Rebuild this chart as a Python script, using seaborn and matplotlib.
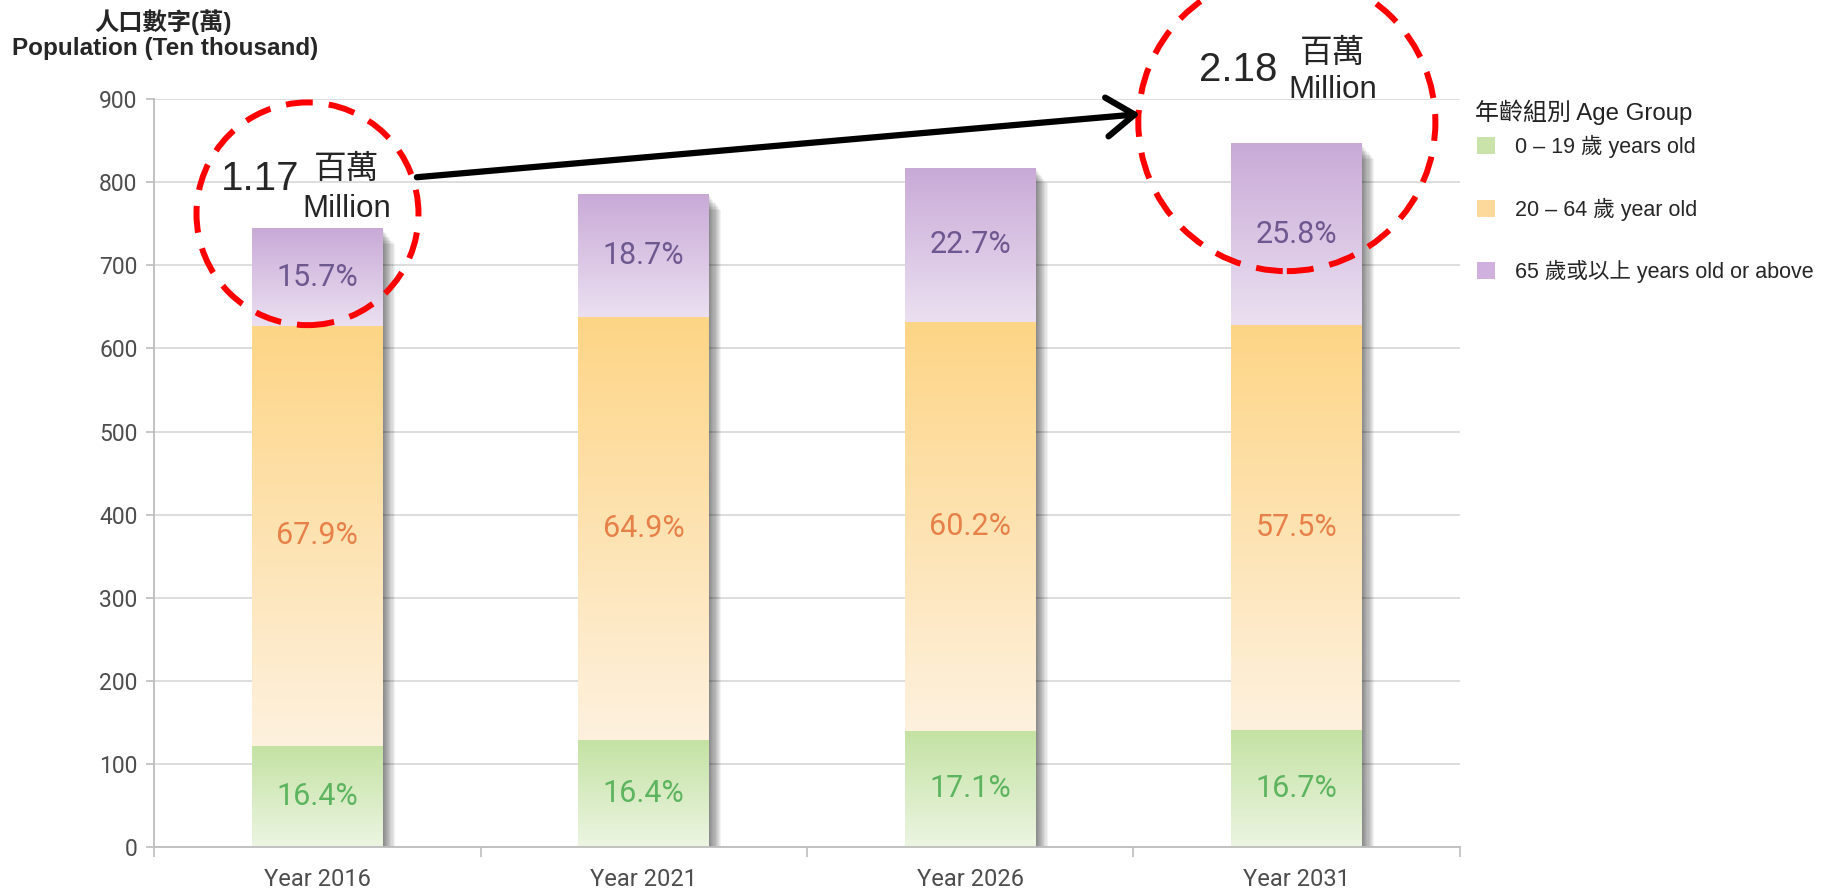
import numpy as np
import pandas as pd
import seaborn as sns
import matplotlib.pyplot as plt
from matplotlib import patheffects
from matplotlib.colors import LinearSegmentedColormap
from matplotlib.patches import Ellipse, Patch

years = ["Year 2016", "Year 2021", "Year 2026", "Year 2031"]
age_groups = ["0 – 19 歲 years old", "20 – 64 歲 year old", "65 歲或以上 years old or above"]

# population in ten thousand
young = [122, 129, 140, 141]
working = [505, 509, 492, 487]
elderly = [117, 147, 185, 218]

pct_young = ["16.4%", "16.4%", "17.1%", "16.7%"]
pct_working = ["67.9%", "64.9%", "60.2%", "57.5%"]
pct_elderly = ["15.7%", "18.7%", "22.7%", "25.8%"]

df = pd.DataFrame({"year": years, "young": young, "working": working, "elderly": elderly})
df["lower"] = df["young"] + df["working"]
df["total"] = df["lower"] + df["elderly"]

# (light bottom, dark top) for each segment
green = ("#ecf5e2", "#c4e2a3")
orange = ("#fef1de", "#fdd586")
purple = ("#ebe0f1", "#c9aad7")
txt_colors = ["#5db45f", "#e8804a", "#6e5890"]

sns.set_theme(style="white")
plt.rcParams["font.family"] = ["Liberation Sans", "Noto Sans CJK TC", "DejaVu Sans"]

fig, ax = plt.subplots(figsize=(18.34, 8.93), dpi=100)
fig.subplots_adjust(left=0.084, right=0.796, bottom=0.0515, top=0.889)

# stacked bars drawn as cumulative layers
for col, c in [("total", purple[1]), ("lower", orange[1]), ("young", green[1])]:
    sns.barplot(data=df, x="year", y=col, color=c, width=0.4, saturation=1,
                edgecolor="none", linewidth=0, ax=ax)

n = len(years)
tot_bars = ax.patches[0:n]
low_bars = ax.patches[n:2 * n]
yng_bars = ax.patches[2 * n:3 * n]

# soft drop shadow under each full bar
shadow = [patheffects.SimplePatchShadow(offset=(d * 0.8, -d), shadow_rgbFace="black", alpha=0.05)
          for d in range(1, 12)]
for p in tot_bars:
    p.set_path_effects(shadow + [patheffects.Normal()])

grad = np.linspace(0, 1, 256).reshape(-1, 1)
for i in range(n):
    x0 = tot_bars[i].get_x()
    w = tot_bars[i].get_width()
    segs = [
        (0, yng_bars[i].get_height(), green, pct_young[i], txt_colors[0]),
        (yng_bars[i].get_height(), low_bars[i].get_height(), orange, pct_working[i], txt_colors[1]),
        (low_bars[i].get_height(), tot_bars[i].get_height(), purple, pct_elderly[i], txt_colors[2]),
    ]
    for b, t, cols, lab, tc in segs:
        cmap = LinearSegmentedColormap.from_list("g", list(cols))
        ax.imshow(grad, extent=[x0, x0 + w, b, t], origin="lower", cmap=cmap,
                  aspect="auto", zorder=2.5, interpolation="bicubic")
        ax.text(x0 + w / 2, (b + t) / 2, lab, ha="center", va="center", color=tc,
                fontsize=22, family="Roboto", zorder=4)

ax.set_xlim(-0.5, n - 0.5)
ax.set_ylim(0, 900)
ax.set_xlabel("")
ax.set_ylabel("")

ax.set_yticks(range(0, 1000, 100))
ax.set_xticks(range(n))
ax.set_xticklabels(years, family="Roboto")
ax.set_xticks(np.arange(-0.5, n, 1), minor=True)
for lab in ax.get_yticklabels():
    lab.set_family("Roboto")
ax.tick_params(axis="x", which="major", length=0, pad=15, labelsize=17, labelcolor="#4d4d4d")
ax.tick_params(axis="x", which="minor", length=7, width=1.2, color="#bdbdbd", bottom=True)
ax.tick_params(axis="y", length=6, width=1.2, color="#bdbdbd", pad=6, labelsize=16.5,
               labelcolor="#4d4d4d", left=True)
ax.yaxis.grid(True, color="#dadada", lw=1.3)
ax.set_axisbelow(True)
sns.despine(ax=ax)
for s in ["left", "bottom"]:
    ax.spines[s].set_color("#bdbdbd")
    ax.spines[s].set_linewidth(1.3)

# axis title
fig.text(163 / 1834, 1 - 22 / 893, "人口數字(萬)", ha="center", va="center",
         fontsize=17.5, weight="bold")
fig.text(12 / 1834, 1 - 49 / 893, "Population (Ten thousand)", ha="left", va="center",
         fontsize=17.5, weight="bold")

# legend
fig.text(1475 / 1834, 1 - 112 / 893, "年齡組別 Age Group", ha="left", va="center",
         fontsize=17.3, color="#222222")
handles = [Patch(facecolor=c, edgecolor="none")
           for c in ["#c9e3ab", "#fdd99c", "#cfb0de"]]
leg = ax.legend(handles, age_groups, loc="upper left",
                bbox_to_anchor=(1477 / 1834, 1 - 135 / 893), bbox_transform=fig.transFigure,
                frameon=False, fontsize=15.5, handlelength=0.84,
                handleheight=0.84, handletextpad=0.93, labelspacing=1.83, borderpad=0,
                borderaxespad=0)

# highlight annotations
ax.add_patch(Ellipse((-0.03, 762), 0.68, 268, fill=False, ec="#ff0000", lw=4.3,
                     ls=(0, (4.5, 2.7)), clip_on=False, zorder=6))
ax.add_patch(Ellipse((2.97, 872), 0.91, 358, fill=False, ec="#ff0000", lw=4.3,
                     ls=(0, (4.5, 2.7)), clip_on=False, zorder=6))
ax.annotate("", xy=(2.52, 882), xytext=(0.305, 806),
            arrowprops=dict(arrowstyle="->,head_length=0.5,head_width=0.35", lw=4.5,
                            color="black", mutation_scale=40, shrinkA=0, shrinkB=0),
            annotation_clip=False, zorder=7)

ax.text(-0.294, 804, "1.17", ha="left", va="center", fontsize=29, clip_on=False, zorder=7)
ax.text(0.09, 815, "百萬", ha="center", va="center", fontsize=23.5, clip_on=False, zorder=7)
ax.text(0.09, 768, "Million", ha="center", va="center", fontsize=22.5, clip_on=False, zorder=7)
ax.text(2.70, 935, "2.18", ha="left", va="center", fontsize=29, clip_on=False, zorder=7)
ax.text(3.11, 955, "百萬", ha="center", va="center", fontsize=23.5, clip_on=False, zorder=7)
ax.text(3.11, 911, "Million", ha="center", va="center", fontsize=22.5, clip_on=False, zorder=7)

fig.savefig("out.png", dpi=100)
